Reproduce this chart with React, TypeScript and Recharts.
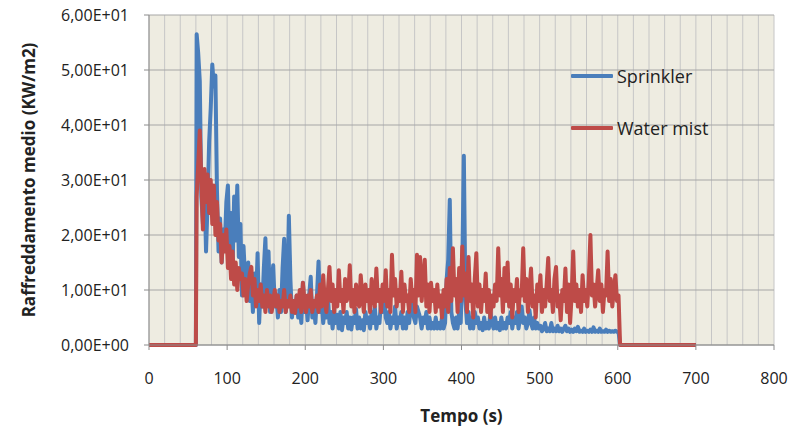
import React from 'react';
import { LineChart, Line, XAxis, YAxis, CartesianGrid, Legend, Label } from 'recharts';

// x-axis grid ticks (every 20 s) and labelled ticks (every 100 s)
const xGridTicks = [0, 20, 40, 60, 80, 100, 120, 140, 160, 180, 200, 220, 240, 260, 280, 300, 320, 340, 360, 380, 400, 420, 440, 460, 480, 500, 520, 540, 560, 580, 600, 620, 640, 660, 680, 700, 720, 740, 760, 780, 800];
const xLabelTicks = [0, 100, 200, 300, 400, 500, 600, 700, 800];
const yTicks = [0, 10, 20, 30, 40, 50, 60];

// Time stamps before and after the sampled window
const leadTimes = [0, 60];
const tailTimes = [601, 603, 700];
// Sampled window: every 2 s from 61 s to 599 s
const sampleStart = 61;
const sampleStep = 2;

// Sprinkler (KW/m2)
const sprinklerLead = [0, 0];
const sprinklerValues = [
  56.5, 53, 48, 27, 22, 29, 17, 26, 37, 43,
  51, 47, 49, 28, 17, 23, 15, 21, 18, 26,
  29, 17, 24, 14, 27, 19, 29, 16, 22, 9,
  18, 12, 10, 15, 8, 12, 6, 13, 8, 16.7,
  4, 11, 7, 14, 19.4, 8, 17, 6, 11, 14.5,
  7, 9, 5, 10, 6, 14, 19.3, 6, 9, 23.5,
  12, 5, 8, 6, 9, 5, 7, 4, 11.3, 6,
  8, 4.5, 9, 12.4, 5, 7, 4, 9, 15.2, 6,
  8, 4, 7, 5, 9, 4, 6, 3, 6, 4,
  5.5, 3, 6, 2.7, 5, 4, 6, 3, 5, 2.8,
  5, 4, 6.5, 3, 5, 3, 4.5, 2.7, 6, 4,
  5, 3, 6, 4, 7, 3, 5, 4, 8, 6,
  10, 5, 4, 6, 3, 5, 4, 7, 3, 5,
  4, 6, 3, 5, 3, 6, 4, 7, 8, 5,
  4, 7, 6, 5, 3, 5, 4, 6, 3, 5,
  3, 4, 3, 5, 3, 4, 3, 5, 3, 4,
  12, 15.5, 26.4, 6, 4, 3, 5, 3, 6, 4,
  14, 34.4, 8, 4, 6, 3, 5, 3, 6, 4,
  5, 3, 4, 2.7, 5, 3, 4, 3, 6, 4,
  3, 5, 3, 4, 2.7, 5, 3, 4, 3, 5,
  4, 6, 3, 5, 4, 6, 3, 5, 7, 4,
  5, 3, 4, 6.3, 4, 3, 5, 3, 4, 3,
  3.5, 2.5, 3, 4, 2.5, 3, 2.5, 4, 2.5, 3,
  2.5, 3.5, 2.5, 3, 2.4, 3, 3.5, 2.5, 3, 2.4,
  2.8, 2.4, 3, 2.5, 3.3, 2.4, 2.6, 2.4, 3, 2.4,
  2.6, 2.4, 2.8, 2.4, 3.2, 2.4, 2.6, 2.4, 3, 2.4,
  2.5, 2.4, 2.8, 2.4, 2.6, 2.4, 2.5, 2.4, 2.6, 2.4,
];
const sprinklerTail = [2.4, 0, 0];

// Water mist (KW/m2)
const mistLead = [0, 0];
const mistValues = [
  27, 33, 39, 30, 21, 32, 26, 31, 24, 30,
  22, 29, 20, 26, 19, 22, 15, 20, 17, 21,
  14, 18, 12, 17, 11, 15, 10, 14, 12, 13,
  9, 12, 8, 11, 13, 14.2, 9, 12, 7, 10,
  8, 11, 7, 9, 6, 10, 7, 9, 6, 8,
  10, 7, 9, 6, 8, 7, 10, 6, 8, 7,
  9, 6, 8, 5.8, 9, 7, 10, 6, 11.3, 8,
  6, 9, 7, 10, 6, 8, 7, 9, 6, 11,
  7, 12.7, 8, 6, 10, 14.2, 8, 11, 6, 10,
  7, 13.6, 8, 10, 6, 12, 8, 9, 14.5, 7,
  10, 6, 11, 8, 7, 12.7, 9, 6, 11, 8,
  10, 6, 12, 9, 7, 13.9, 8, 10, 6, 11,
  8, 13.6, 7, 10, 6, 16.4, 9, 12, 7, 10,
  8, 13.3, 6, 11, 8, 9, 6, 12, 8, 10,
  6, 16.4, 9, 16, 8, 12, 15.5, 7, 11, 6,
  11.3, 8, 10, 6, 11, 7, 9, 5, 10, 7,
  12, 6, 14, 8, 17.6, 9, 12, 6, 14, 8,
  17.9, 9, 13, 6, 16, 8, 11, 5, 12, 16.7,
  7, 11, 6, 10, 8, 13, 6, 10, 5, 9,
  7, 11, 8, 17.6, 9, 12, 6, 14, 8, 15,
  7, 11, 5, 10, 8, 12, 6, 10, 9, 17.6,
  8, 12, 6, 10, 13.9, 7, 9, 5, 11, 8,
  12.7, 6, 10, 7, 11, 15.8, 8, 10, 6, 12,
  14.2, 7, 9, 4.5, 10, 8, 13.9, 6, 11, 4,
  9, 17, 8, 11, 7, 10, 6, 12.7, 8, 10,
  7, 12, 20, 9, 11, 7, 10, 13.6, 8, 11,
  6, 10, 9, 17, 8, 12, 7, 10, 12.7, 8,
];
const mistTail = [9, 0, 0];

const seriesNames = ['Sprinkler', 'Water mist'];
const seriesColors = ['#4A7EBB', '#BE4B48'];

const sampleTimes = sprinklerValues.map((_, i) => sampleStart + sampleStep * i);
const times = [...leadTimes, ...sampleTimes, ...tailTimes];
const sprinkler = [...sprinklerLead, ...sprinklerValues, ...sprinklerTail];
const mist = [...mistLead, ...mistValues, ...mistTail];
const data = times.map((t, i) => ({ t, sprinkler: sprinkler[i], mist: mist[i] }));

const FONT = '"Open Sans", sans-serif';
const TEXT = '#222';
const AXIS = '#8c8c8c';

const fmtSci = (v: number) => {
  if (v === 0) return '0,00E+00';
  const [m, e] = v.toExponential(2).split('e');
  const en = parseInt(e, 10);
  return m.replace('.', ',') + 'E' + (en < 0 ? '-' : '+') + String(Math.abs(en)).padStart(2, '0');
};

const XTick = (props: any) => {
  const { x, y, payload } = props;
  if (!xLabelTicks.includes(payload.value)) return <g />;
  return (
    <g>
      <line x1={x} x2={x} y1={y} y2={y + 5} stroke={AXIS} />
      <text x={x} y={y + 39} textAnchor="middle" fill={TEXT} fontSize={16} fontFamily={FONT}>
        {payload.value}
      </text>
    </g>
  );
};

const XTitle = (props: any) => {
  const vb = props.viewBox;
  return (
    <text x={vb.x + vb.width / 2} y={vb.y + 77} textAnchor="middle" fill={TEXT} fontSize={17} fontWeight="bold" fontFamily={FONT}>
      Tempo (s)
    </text>
  );
};

const YTitle = (props: any) => {
  const vb = props.viewBox;
  const cx = vb.x + 28;
  const cy = vb.y + vb.height / 2;
  return (
    <text x={cx} y={cy} transform={`rotate(-90 ${cx} ${cy})`} textAnchor="middle" dominantBaseline="central" fill={TEXT} fontSize={17} fontWeight="bold" fontFamily={FONT}>
      Raffreddamento medio (KW/m2)
    </text>
  );
};

const renderLegend = () => (
  <div style={{ fontFamily: FONT, fontSize: 18, color: TEXT }}>
    {seriesNames.map((name, i) => (
      <div key={name} style={{ display: 'flex', alignItems: 'center', height: 26, marginBottom: 26 }}>
        <div style={{ width: 42, height: 4, background: seriesColors[i], marginRight: 4, borderRadius: 1 }} />
        <span style={{ whiteSpace: 'nowrap' }}>{name}</span>
      </div>
    ))}
  </div>
);

export default function App() {
  return (
    <div style={{ position: 'absolute', left: 0, top: 0, width: 806, height: 429, background: '#fff', fontFamily: FONT }}>
      <LineChart width={806} height={429} data={data} margin={{ top: 15, right: 32, bottom: 0, left: 0 }}>
        <CartesianGrid horizontal={false} stroke="#c6c6c6" fill="#EEECE1" />
        <CartesianGrid vertical={false} stroke="#a6a6a6" />
        <XAxis
          dataKey="t"
          type="number"
          domain={[0, 800]}
          ticks={xGridTicks}
          interval={0}
          tickSize={0}
          tickMargin={0}
          tickLine={false}
          tick={XTick}
          axisLine={{ stroke: AXIS }}
          height={84}
        >
          <Label content={XTitle} />
        </XAxis>
        <YAxis
          type="number"
          domain={[0, 60]}
          ticks={yTicks}
          interval={0}
          width={149}
          tickSize={5}
          tickMargin={15}
          tickFormatter={fmtSci}
          tick={{ fill: TEXT, fontSize: 16, fontFamily: FONT }}
          tickLine={{ stroke: AXIS }}
          axisLine={{ stroke: AXIS }}
        >
          <Label content={YTitle} />
        </YAxis>
        <Line type="linear" dataKey="sprinkler" name={seriesNames[0]} stroke={seriesColors[0]} strokeWidth={4} dot={false} isAnimationActive={false} strokeLinejoin="round" />
        <Line type="linear" dataKey="mist" name={seriesNames[1]} stroke={seriesColors[1]} strokeWidth={4} dot={false} isAnimationActive={false} strokeLinejoin="round" />
        <Legend layout="vertical" align="center" verticalAlign="middle" content={renderLegend} wrapperStyle={{ left: 571, top: 63, width: 200, height: 80 }} />
      </LineChart>
    </div>
  );
}
